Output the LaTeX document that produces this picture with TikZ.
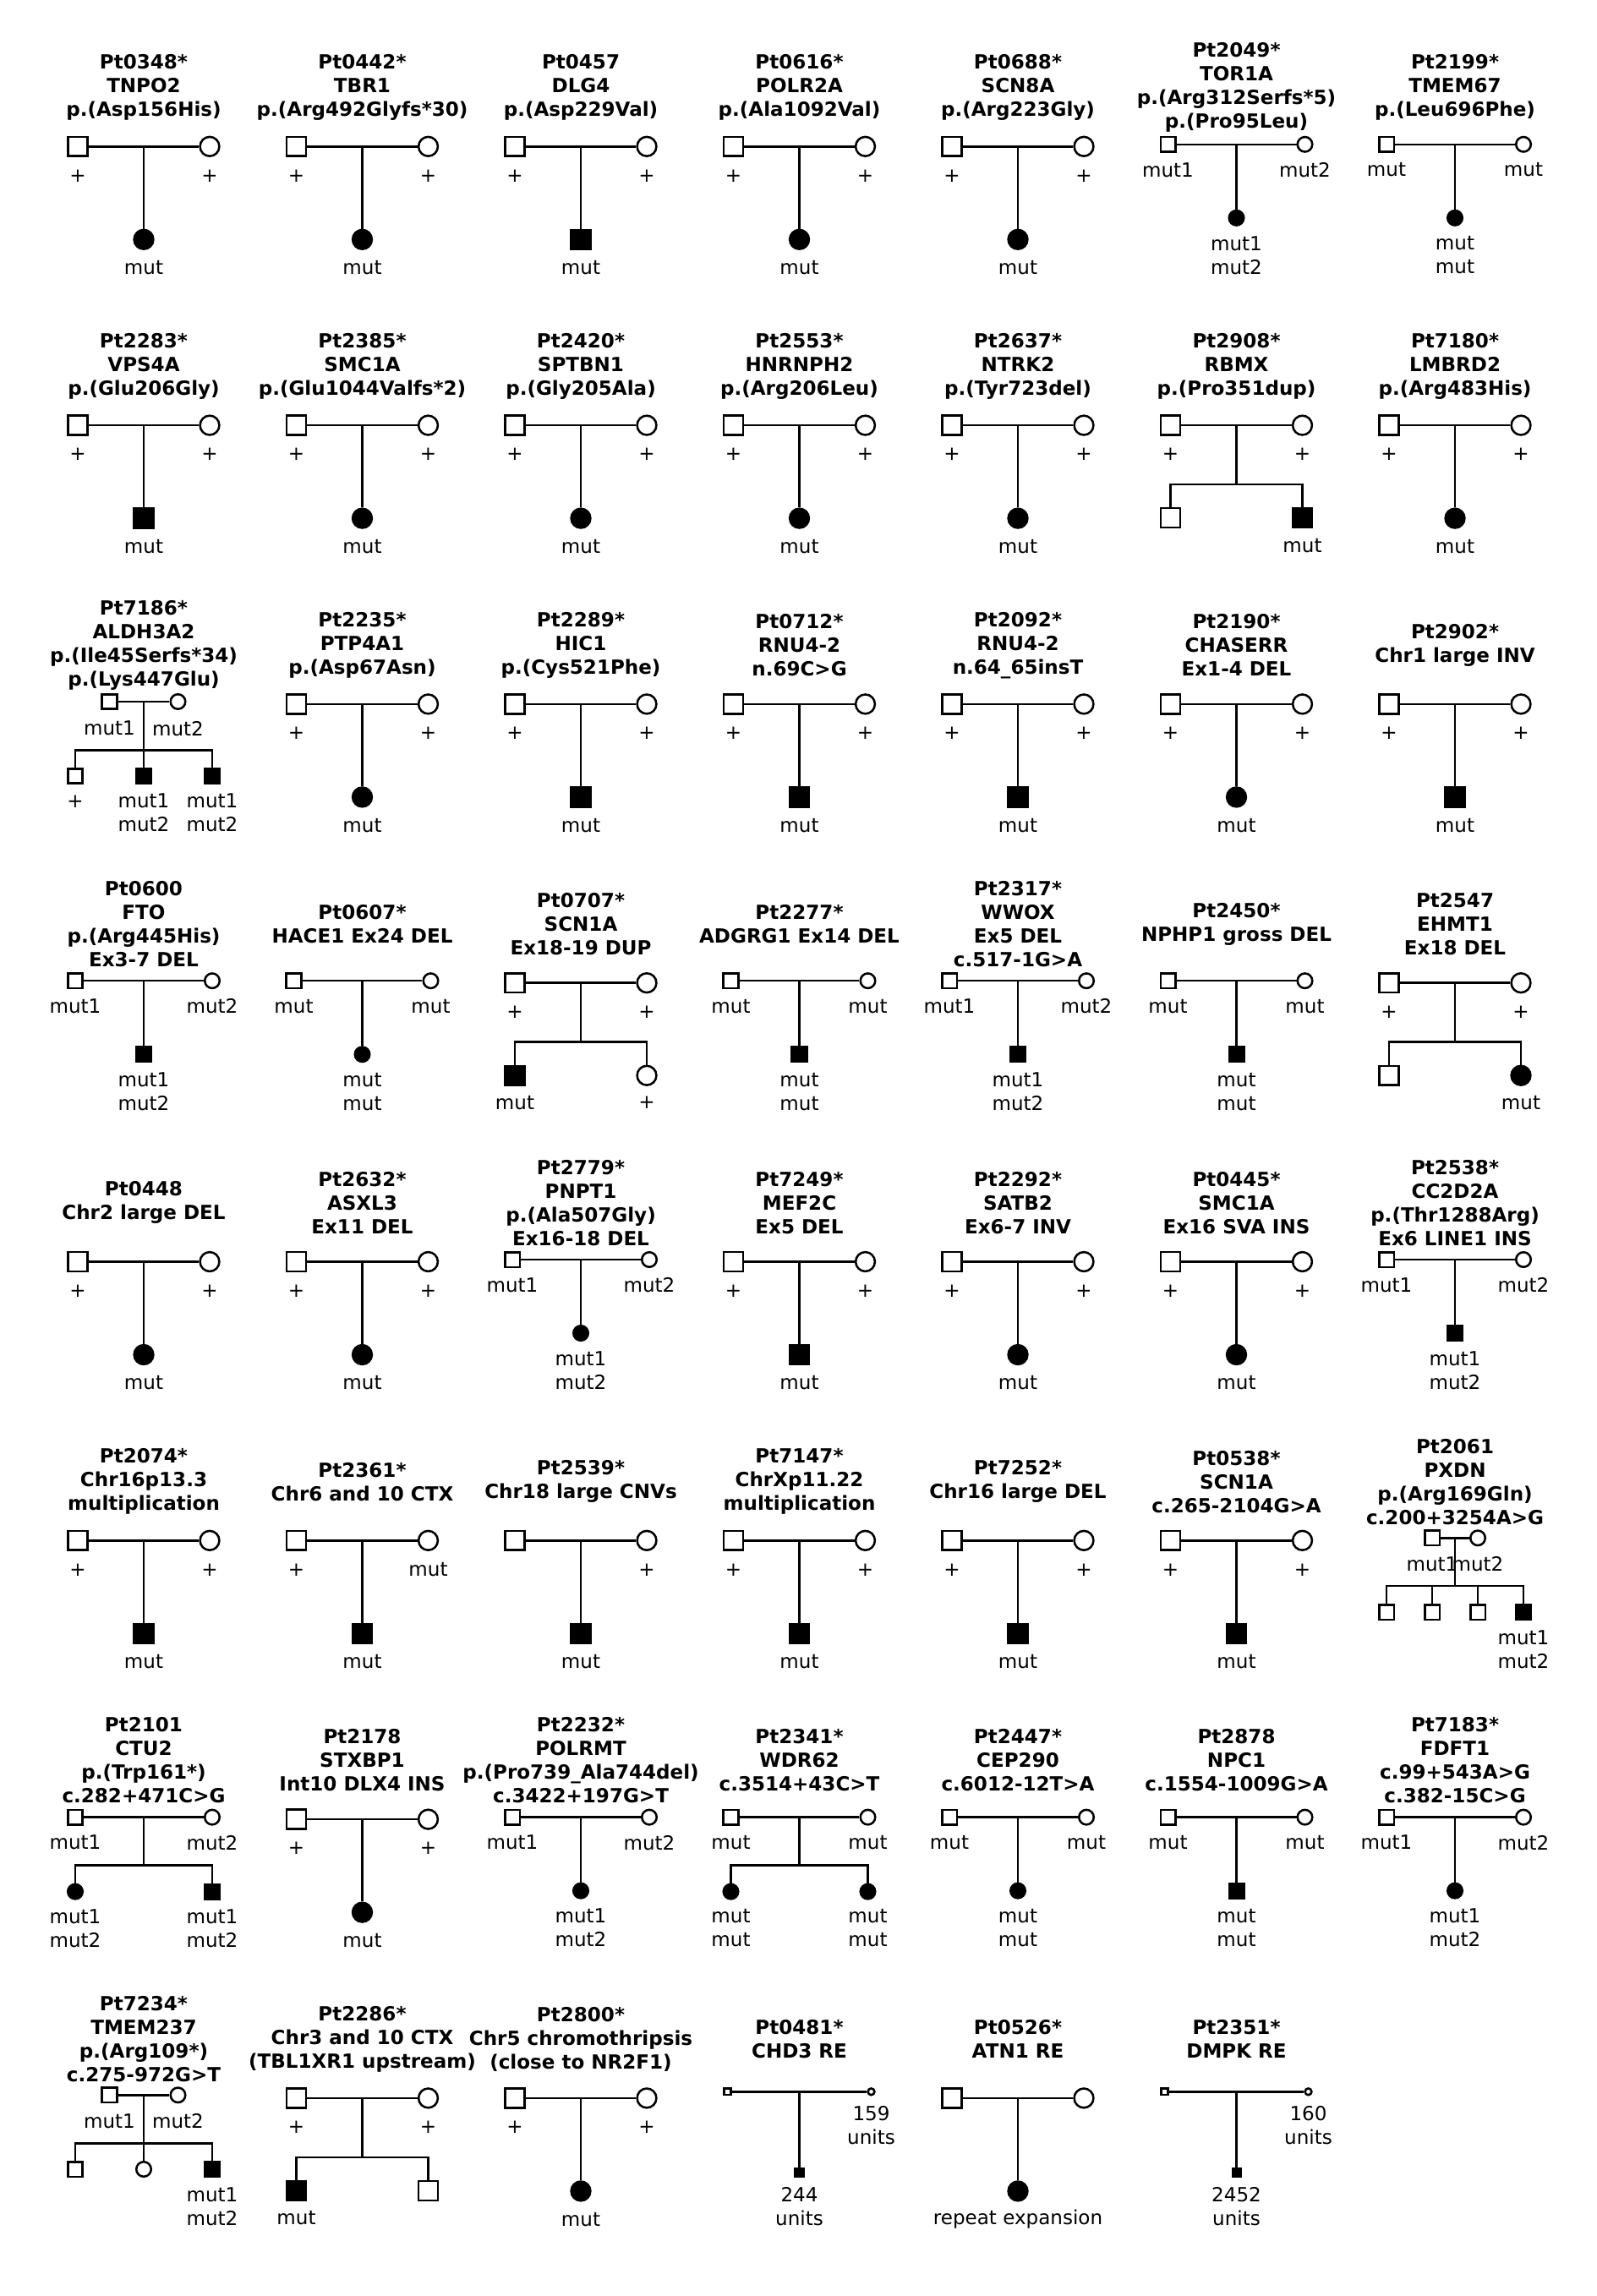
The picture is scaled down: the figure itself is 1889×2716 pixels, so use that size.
\documentclass[tikz,border=0pt]{standalone}
\usepackage{fontspec}
\setmainfont{DejaVu Sans}
\usepackage{tikz}
\tikzset{
  pedline/.style={line width=0.72pt},
  male/.style={rectangle, draw, line width=0.72pt, minimum size=0.228cm, inner sep=0pt},
  female/.style={circle, draw, line width=0.72pt, minimum size=0.228cm, inner sep=0pt},
  sm/.style={minimum size=0.175cm},
  tiny/.style={minimum size=0.078cm},
  tinyc/.style={minimum size=0.095cm},
  aff/.style={fill=black},
  ttl/.style={font=\fontsize{6.55}{7.97}\selectfont\bfseries, align=center, inner sep=0pt, yshift=-0.2mm},
  gt/.style={font=\fontsize{6.55}{7.97}\selectfont, align=center, inner sep=0pt}
}
% title and genotype labels
\newcommand{\ptitle}[4]{\node[ttl] (#1t) at (#2,#3) {#4};}
\newcommand{\plbl}[4]{\if\relax\detokenize{#4}\relax\else\node[gt] (#1) at (#2,#3) {#4};\fi}
% trio, large symbols: id, x, y, father, mother, child style, child label
\newcommand{\pedA}[7]{%
  \node[male] (#1f) at ({#2-78},#3) {};
  \node[female] (#1m) at ({#2+78},#3) {};
  \coordinate (#1u) at (#2,#3);
  \node[#6] (#1c) at (#2,{#3+110}) {};
  \draw[pedline] (#1f) -- (#1m);
  \draw[pedline] (#1u) -- (#1c);
  \plbl{#1fl}{{#2-78}}{{#3+34.5}}{#4}
  \plbl{#1ml}{{#2+78}}{{#3+34.5}}{#5}
  \plbl{#1cl}{#2}{{#3+143.5}}{#7}
}
% trio, small symbols
\newcommand{\pedB}[7]{%
  \node[male,sm] (#1f) at ({#2-81},#3) {};
  \node[female,sm] (#1m) at ({#2+81},#3) {};
  \coordinate (#1u) at (#2,#3);
  \node[#6,sm] (#1c) at (#2,{#3+87}) {};
  \draw[pedline] (#1f) -- (#1m);
  \draw[pedline] (#1u) -- (#1c);
  \plbl{#1fl}{{#2-81}}{{#3+30}}{#4}
  \plbl{#1ml}{{#2+81}}{{#3+30}}{#5}
  \plbl{#1cl}{#2}{{#3+131}}{#7}
}
% two children, large symbols
\newcommand{\pedS}[9]{%
  \node[male] (#1f) at ({#2-78},#3) {};
  \node[female] (#1m) at ({#2+78},#3) {};
  \coordinate (#1u) at (#2,#3);
  \coordinate (#1b) at (#2,{#3+70});
  \coordinate (#1bl) at ({#2-78},{#3+70});
  \coordinate (#1br) at ({#2+78},{#3+70});
  \node[#6] (#1c1) at ({#2-78},{#3+109.5}) {};
  \node[#8] (#1c2) at ({#2+78},{#3+109.5}) {};
  \draw[pedline] (#1f) -- (#1m);
  \draw[pedline] (#1u) -- (#1b);
  \draw[pedline] (#1c1) -- (#1bl) -- (#1br) -- (#1c2);
  \plbl{#1fl}{{#2-78}}{{#3+34.5}}{#4}
  \plbl{#1ml}{{#2+78}}{{#3+34.5}}{#5}
  \plbl{#1c1l}{{#2-78}}{{#3+142}}{#7}
  \plbl{#1c2l}{{#2+78}}{{#3+142}}{#9}
}
% two children, small symbols
\newcommand{\pedSB}[9]{%
  \node[male,sm] (#1f) at ({#2-81},#3) {};
  \node[female,sm] (#1m) at ({#2+81},#3) {};
  \coordinate (#1u) at (#2,#3);
  \coordinate (#1b) at (#2,{#3+57});
  \coordinate (#1bl) at ({#2-81},{#3+57});
  \coordinate (#1br) at ({#2+81},{#3+57});
  \node[#6,sm] (#1c1) at ({#2-81},{#3+88}) {};
  \node[#8,sm] (#1c2) at ({#2+81},{#3+88}) {};
  \draw[pedline] (#1f) -- (#1m);
  \draw[pedline] (#1u) -- (#1b);
  \draw[pedline] (#1c1) -- (#1bl) -- (#1br) -- (#1c2);
  \plbl{#1fl}{{#2-81}}{{#3+30}}{#4}
  \plbl{#1ml}{{#2+81}}{{#3+30}}{#5}
  \plbl{#1c1l}{{#2-81}}{{#3+131.3}}{#7}
  \plbl{#1c2l}{{#2+81}}{{#3+131.3}}{#9}
}
% repeat expansion, tiny symbols
\newcommand{\pedRE}[5]{%
  \node[male,tiny] (#1f) at ({#2-85},#3) {};
  \node[female,tiny] (#1m) at ({#2+85},#3) {};
  \coordinate (#1u) at (#2,#3);
  \node[male,aff,tinyc] (#1c) at (#2,{#3+96}) {};
  \draw[pedline] (#1f) -- (#1m);
  \draw[pedline] (#1u) -- (#1c);
  \plbl{#1ml}{{#2+85}}{{#3+39.5}}{#4}
  \plbl{#1cl}{#2}{{#3+136}}{#5}
}
\begin{document}
\begin{tikzpicture}[x=0.01cm, y=-0.01cm]
\fill[white] (0,0) rectangle (1889,2716);
\path[use as bounding box] (0,0) rectangle (1889,2716);

\ptitle{pt0348}{170}{101.7}{Pt0348*\\TNPO2\\p.(Asp156His)}
\pedA{pt0348}{170}{173.3}{+}{+}{female,aff}{mut}
\ptitle{pt0442}{428.5}{101.7}{Pt0442*\\TBR1\\p.(Arg492Glyfs*30)}
\pedA{pt0442}{428.5}{173.3}{+}{+}{female,aff}{mut}
\ptitle{pt0457}{687}{101.7}{Pt0457\\DLG4\\p.(Asp229Val)}
\pedA{pt0457}{687}{173.3}{+}{+}{male,aff}{mut}
\ptitle{pt0616}{945.5}{101.7}{Pt0616*\\POLR2A\\p.(Ala1092Val)}
\pedA{pt0616}{945.5}{173.3}{+}{+}{female,aff}{mut}
\ptitle{pt0688}{1204}{101.7}{Pt0688*\\SCN8A\\p.(Arg223Gly)}
\pedA{pt0688}{1204}{173.3}{+}{+}{female,aff}{mut}
\ptitle{pt2049}{1462.5}{101.7}{Pt2049*\\TOR1A\\p.(Arg312Serfs*5)\\p.(Pro95Leu)}
\pedB{pt2049}{1462.5}{170.8}{mut1}{mut2}{female,aff}{mut1\\mut2}
\ptitle{pt2199}{1721}{101.7}{Pt2199*\\TMEM67\\p.(Leu696Phe)}
\pedB{pt2199}{1721}{170.8}{mut}{mut}{female,aff}{mut\\mut}

\ptitle{pt2283}{170}{431.5}{Pt2283*\\VPS4A\\p.(Glu206Gly)}
\pedA{pt2283}{170}{503.1}{+}{+}{male,aff}{mut}
\ptitle{pt2385}{428.5}{431.5}{Pt2385*\\SMC1A\\p.(Glu1044Valfs*2)}
\pedA{pt2385}{428.5}{503.1}{+}{+}{female,aff}{mut}
\ptitle{pt2420}{687}{431.5}{Pt2420*\\SPTBN1\\p.(Gly205Ala)}
\pedA{pt2420}{687}{503.1}{+}{+}{female,aff}{mut}
\ptitle{pt2553}{945.5}{431.5}{Pt2553*\\HNRNPH2\\p.(Arg206Leu)}
\pedA{pt2553}{945.5}{503.1}{+}{+}{female,aff}{mut}
\ptitle{pt2637}{1204}{431.5}{Pt2637*\\NTRK2\\p.(Tyr723del)}
\pedA{pt2637}{1204}{503.1}{+}{+}{female,aff}{mut}
\ptitle{pt2908}{1462.5}{431.5}{Pt2908*\\RBMX\\p.(Pro351dup)}
\pedS{pt2908}{1462.5}{503.1}{+}{+}{male}{}{male,aff}{mut}
\ptitle{pt7180}{1721}{431.5}{Pt7180*\\LMBRD2\\p.(Arg483His)}
\pedA{pt7180}{1721}{503.1}{+}{+}{female,aff}{mut}

\ptitle{pt7186}{170}{761.3}{Pt7186*\\ALDH3A2\\p.(Ile45Serfs*34)\\p.(Lys447Glu)}
\node[male,sm] (pt7186f) at (129.5,830) {};
\node[female,sm] (pt7186m) at (210.5,830) {};
\coordinate (pt7186u) at (170,830);
\coordinate (pt7186bl) at (89,887.3);
\coordinate (pt7186br) at (251,887.3);
\node[male,sm] (pt7186c1) at (89,918) {};
\node[male,aff,sm] (pt7186c2) at (170,918) {};
\node[male,aff,sm] (pt7186c3) at (251,918) {};
\draw[pedline] (pt7186f) -- (pt7186m);
\draw[pedline] (pt7186u) -- (pt7186c2);
\draw[pedline] (pt7186c1) -- (pt7186bl) -- (pt7186br) -- (pt7186c3);
\node[gt] (pt7186fl) at (129.5,861.7) {mut1};
\node[gt] (pt7186ml) at (210.5,861.7) {mut2};
\node[gt] (pt7186c1l) at (89,948) {+};
\node[gt] (pt7186c2l) at (170,961.5) {mut1\\mut2};
\node[gt] (pt7186c3l) at (251,961.5) {mut1\\mut2};
\ptitle{pt2235}{428.5}{761.3}{Pt2235*\\PTP4A1\\p.(Asp67Asn)}
\pedA{pt2235}{428.5}{832.9}{+}{+}{female,aff}{mut}
\ptitle{pt2289}{687}{761.3}{Pt2289*\\HIC1\\p.(Cys521Phe)}
\pedA{pt2289}{687}{832.9}{+}{+}{male,aff}{mut}
\ptitle{pt0712}{945.5}{761.3}{Pt0712*\\RNU4-2\\n.69C>G}
\pedA{pt0712}{945.5}{832.9}{+}{+}{male,aff}{mut}
\ptitle{pt2092}{1204}{761.3}{Pt2092*\\RNU4-2\\n.64\_65insT}
\pedA{pt2092}{1204}{832.9}{+}{+}{male,aff}{mut}
\ptitle{pt2190}{1462.5}{761.3}{Pt2190*\\CHASERR\\Ex1-4 DEL}
\pedA{pt2190}{1462.5}{832.9}{+}{+}{female,aff}{mut}
\ptitle{pt2902}{1721}{761.3}{Pt2902*\\Chr1 large INV}
\pedA{pt2902}{1721}{832.9}{+}{+}{male,aff}{mut}

\ptitle{pt0600}{170}{1091.1}{Pt0600\\FTO\\p.(Arg445His)\\Ex3-7 DEL}
\pedB{pt0600}{170}{1160.2}{mut1}{mut2}{male,aff}{mut1\\mut2}
\ptitle{pt0607}{428.5}{1091.1}{Pt0607*\\HACE1 Ex24 DEL}
\pedB{pt0607}{428.5}{1160.2}{mut}{mut}{female,aff}{mut\\mut}
\ptitle{pt0707}{687}{1091.1}{Pt0707*\\SCN1A\\Ex18-19 DUP}
\pedS{pt0707}{687}{1162.7}{+}{+}{male,aff}{mut}{female}{+}
\ptitle{pt2277}{945.5}{1091.1}{Pt2277*\\ADGRG1 Ex14 DEL}
\pedB{pt2277}{945.5}{1160.2}{mut}{mut}{male,aff}{mut\\mut}
\ptitle{pt2317}{1204}{1091.1}{Pt2317*\\WWOX\\Ex5 DEL\\c.517-1G>A}
\pedB{pt2317}{1204}{1160.2}{mut1}{mut2}{male,aff}{mut1\\mut2}
\ptitle{pt2450}{1462.5}{1091.1}{Pt2450*\\NPHP1 gross DEL}
\pedB{pt2450}{1462.5}{1160.2}{mut}{mut}{male,aff}{mut\\mut}
\ptitle{pt2547}{1721}{1091.1}{Pt2547\\EHMT1\\Ex18 DEL}
\pedS{pt2547}{1721}{1162.7}{+}{+}{male}{}{female,aff}{mut}

\ptitle{pt0448}{170}{1420.9}{Pt0448\\Chr2 large DEL}
\pedA{pt0448}{170}{1492.5}{+}{+}{female,aff}{mut}
\ptitle{pt2632}{428.5}{1420.9}{Pt2632*\\ASXL3\\Ex11 DEL}
\pedA{pt2632}{428.5}{1492.5}{+}{+}{female,aff}{mut}
\ptitle{pt2779}{687}{1420.9}{Pt2779*\\PNPT1\\p.(Ala507Gly)\\Ex16-18 DEL}
\pedB{pt2779}{687}{1490}{mut1}{mut2}{female,aff}{mut1\\mut2}
\ptitle{pt7249}{945.5}{1420.9}{Pt7249*\\MEF2C\\Ex5 DEL}
\pedA{pt7249}{945.5}{1492.5}{+}{+}{male,aff}{mut}
\ptitle{pt2292}{1204}{1420.9}{Pt2292*\\SATB2\\Ex6-7 INV}
\pedA{pt2292}{1204}{1492.5}{+}{+}{female,aff}{mut}
\ptitle{pt0445}{1462.5}{1420.9}{Pt0445*\\SMC1A\\Ex16 SVA INS}
\pedA{pt0445}{1462.5}{1492.5}{+}{+}{female,aff}{mut}
\ptitle{pt2538}{1721}{1420.9}{Pt2538*\\CC2D2A\\p.(Thr1288Arg)\\Ex6 LINE1 INS}
\pedB{pt2538}{1721}{1490}{mut1}{mut2}{male,aff}{mut1\\mut2}

\ptitle{pt2074}{170}{1750.7}{Pt2074*\\Chr16p13.3\\multiplication}
\pedA{pt2074}{170}{1822.3}{+}{+}{male,aff}{mut}
\ptitle{pt2361}{428.5}{1750.7}{Pt2361*\\Chr6 and 10 CTX}
\pedA{pt2361}{428.5}{1822.3}{+}{mut}{male,aff}{mut}
\ptitle{pt2539}{687}{1750.7}{Pt2539*\\Chr18 large CNVs}
\pedA{pt2539}{687}{1822.3}{}{+}{male,aff}{mut}
\ptitle{pt7147}{945.5}{1750.7}{Pt7147*\\ChrXp11.22\\multiplication}
\pedA{pt7147}{945.5}{1822.3}{+}{+}{male,aff}{mut}
\ptitle{pt7252}{1204}{1750.7}{Pt7252*\\Chr16 large DEL}
\pedA{pt7252}{1204}{1822.3}{+}{+}{male,aff}{mut}
\ptitle{pt0538}{1462.5}{1750.7}{Pt0538*\\SCN1A\\c.265-2104G>A}
\pedA{pt0538}{1462.5}{1822.3}{+}{+}{male,aff}{mut}
\ptitle{pt2061}{1721}{1750.7}{Pt2061\\PXDN\\p.(Arg169Gln)\\c.200+3254A>G}
\node[male,sm] (pt2061f) at (1694,1819.3) {};
\node[female,sm] (pt2061m) at (1748,1819.3) {};
\coordinate (pt2061u) at (1721,1819.3);
\coordinate (pt2061b) at (1721,1876);
\coordinate (pt2061b1) at (1640,1876);
\coordinate (pt2061b2) at (1694,1876);
\coordinate (pt2061b3) at (1748,1876);
\coordinate (pt2061b4) at (1802,1876);
\node[male,sm] (pt2061c1) at (1640,1907) {};
\node[male,sm] (pt2061c2) at (1694,1907) {};
\node[male,sm] (pt2061c3) at (1748,1907) {};
\node[male,aff,sm] (pt2061c4) at (1802,1907) {};
\draw[pedline] (pt2061f) -- (pt2061m);
\draw[pedline] (pt2061u) -- (pt2061b);
\draw[pedline] (pt2061c1) -- (pt2061b1) -- (pt2061b4) -- (pt2061c4);
\draw[pedline] (pt2061c2) -- (pt2061b2);
\draw[pedline] (pt2061c3) -- (pt2061b3);
\node[gt] (pt2061fl) at (1694,1850) {mut1};
\node[gt] (pt2061ml) at (1748,1850) {mut2};
\node[gt] (pt2061c4l) at (1802,1951.7) {mut1\\mut2};

\ptitle{pt2101}{170}{2080.5}{Pt2101\\CTU2\\p.(Trp161*)\\c.282+471C>G}
\pedSB{pt2101}{170}{2149.6}{mut1}{mut2}{female,aff}{mut1\\mut2}{male,aff}{mut1\\mut2}
\ptitle{pt2178}{428.5}{2080.5}{Pt2178\\STXBP1\\Int10 DLX4 INS}
\pedA{pt2178}{428.5}{2152.1}{+}{+}{female,aff}{mut}
\ptitle{pt2232}{687}{2080.5}{Pt2232*\\POLRMT\\p.(Pro739\_Ala744del)\\c.3422+197G>T}
\pedB{pt2232}{687}{2149.6}{mut1}{mut2}{female,aff}{mut1\\mut2}
\ptitle{pt2341}{945.5}{2080.5}{Pt2341*\\WDR62\\c.3514+43C>T}
\pedSB{pt2341}{945.5}{2149.6}{mut}{mut}{female,aff}{mut\\mut}{female,aff}{mut\\mut}
\ptitle{pt2447}{1204}{2080.5}{Pt2447*\\CEP290\\c.6012-12T>A}
\pedB{pt2447}{1204}{2149.6}{mut}{mut}{female,aff}{mut\\mut}
\ptitle{pt2878}{1462.5}{2080.5}{Pt2878\\NPC1\\c.1554-1009G>A}
\pedB{pt2878}{1462.5}{2149.6}{mut}{mut}{male,aff}{mut\\mut}
\ptitle{pt7183}{1721}{2080.5}{Pt7183*\\FDFT1\\c.99+543A>G\\c.382-15C>G}
\pedB{pt7183}{1721}{2149.6}{mut1}{mut2}{female,aff}{mut1\\mut2}

\ptitle{pt7234}{170}{2410.3}{Pt7234*\\TMEM237\\p.(Arg109*)\\c.275-972G>T}
\node[male,sm] (pt7234f) at (129.5,2478.3) {};
\node[female,sm] (pt7234m) at (210.5,2478.3) {};
\coordinate (pt7234u) at (170,2478.3);
\coordinate (pt7234bl) at (89,2535.7);
\coordinate (pt7234br) at (251,2535.7);
\node[male,sm] (pt7234c1) at (89,2566) {};
\node[female,sm] (pt7234c2) at (170,2566) {};
\node[male,aff,sm] (pt7234c3) at (251,2566) {};
\draw[pedline] (pt7234f) -- (pt7234m);
\draw[pedline] (pt7234u) -- (pt7234c2);
\draw[pedline] (pt7234c1) -- (pt7234bl) -- (pt7234br) -- (pt7234c3);
\node[gt] (pt7234fl) at (129.5,2509.3) {mut1};
\node[gt] (pt7234ml) at (210.5,2509.3) {mut2};
\node[gt] (pt7234c3l) at (251,2610) {mut1\\mut2};
\ptitle{pt2286}{428.5}{2410.3}{Pt2286*\\Chr3 and 10 CTX\\(TBL1XR1 upstream)}
\pedS{pt2286}{428.5}{2481.9}{+}{+}{male,aff}{mut}{male}{}
\ptitle{pt2800}{687}{2410.3}{Pt2800*\\Chr5 chromothripsis\\(close to NR2F1)}
\pedA{pt2800}{687}{2481.9}{+}{+}{female,aff}{mut}
\ptitle{pt0481}{945.5}{2410.3}{Pt0481*\\CHD3 RE}
\pedRE{pt0481}{945.5}{2474.3}{159\\units}{244\\units}
\ptitle{pt0526}{1204}{2410.3}{Pt0526*\\ATN1 RE}
\pedA{pt0526}{1204}{2481.9}{}{}{female,aff}{repeat expansion}
\ptitle{pt2351}{1462.5}{2410.3}{Pt2351*\\DMPK RE}
\pedRE{pt2351}{1462.5}{2474.3}{160\\units}{2452\\units}
\end{tikzpicture}
\end{document}
